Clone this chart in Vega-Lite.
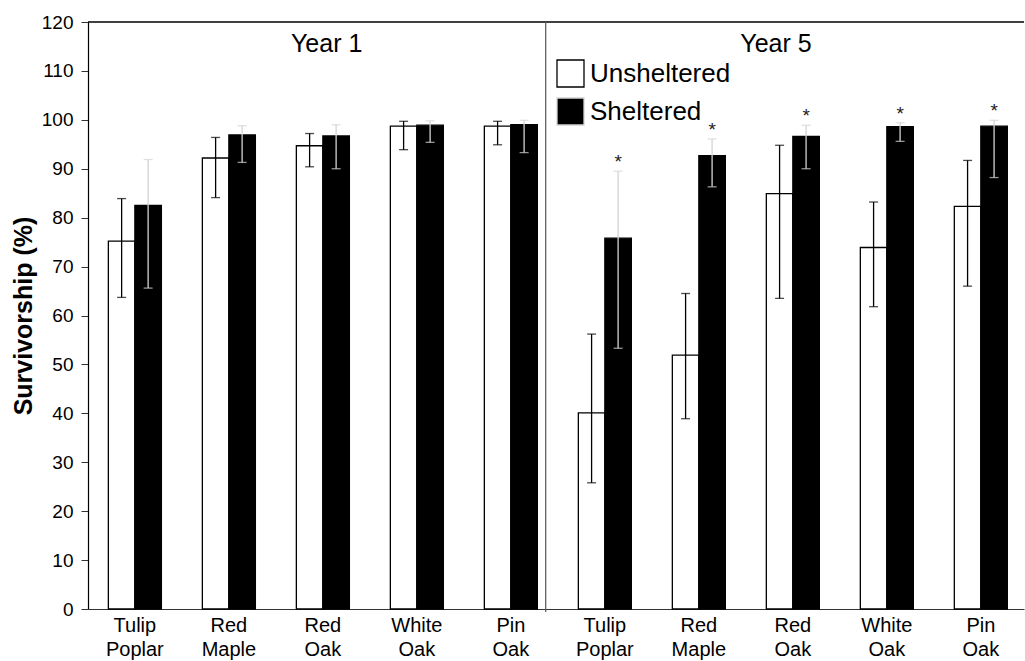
{
  "$schema": "https://vega.github.io/schema/vega-lite/v6.json",
  "width": 936,
  "height": 587,
  "autosize": "none",
  "padding": {"left": 88, "top": 22, "right": 1, "bottom": 52},
  "background": "white",
  "config": {
    "view": {"stroke": null},
    "font": "Liberation Sans",
    "text": {"font": "Liberation Sans"}
  },
  "datasets": {
    "bars": [
      {"cat": "Y1|Tulip|Poplar", "treatment": "Unsheltered", "mean": 75.2, "lo": 63.7, "hi": 83.9, "sig": false},
      {"cat": "Y1|Tulip|Poplar", "treatment": "Sheltered", "mean": 82.5, "lo": 65.6, "hi": 91.9, "sig": false},
      {"cat": "Y1|Red|Maple", "treatment": "Unsheltered", "mean": 92.2, "lo": 84.1, "hi": 96.4, "sig": false},
      {"cat": "Y1|Red|Maple", "treatment": "Sheltered", "mean": 96.9, "lo": 91.3, "hi": 98.8, "sig": false},
      {"cat": "Y1|Red|Oak", "treatment": "Unsheltered", "mean": 94.7, "lo": 90.4, "hi": 97.2, "sig": false},
      {"cat": "Y1|Red|Oak", "treatment": "Sheltered", "mean": 96.7, "lo": 90.0, "hi": 99.0, "sig": false},
      {"cat": "Y1|White|Oak", "treatment": "Unsheltered", "mean": 98.7, "lo": 93.9, "hi": 99.7, "sig": false},
      {"cat": "Y1|White|Oak", "treatment": "Sheltered", "mean": 98.9, "lo": 95.4, "hi": 99.8, "sig": false},
      {"cat": "Y1|Pin|Oak", "treatment": "Unsheltered", "mean": 98.7, "lo": 94.9, "hi": 99.7, "sig": false},
      {"cat": "Y1|Pin|Oak", "treatment": "Sheltered", "mean": 99.0, "lo": 93.3, "hi": 99.9, "sig": false},
      {"cat": "Y5|Tulip|Poplar", "treatment": "Unsheltered", "mean": 40.1, "lo": 25.8, "hi": 56.2, "sig": false},
      {"cat": "Y5|Tulip|Poplar", "treatment": "Sheltered", "mean": 75.8, "lo": 53.3, "hi": 89.5, "sig": true},
      {"cat": "Y5|Red|Maple", "treatment": "Unsheltered", "mean": 51.9, "lo": 38.9, "hi": 64.5, "sig": false},
      {"cat": "Y5|Red|Maple", "treatment": "Sheltered", "mean": 92.7, "lo": 86.3, "hi": 96.1, "sig": true},
      {"cat": "Y5|Red|Oak", "treatment": "Unsheltered", "mean": 84.9, "lo": 63.5, "hi": 94.8, "sig": false},
      {"cat": "Y5|Red|Oak", "treatment": "Sheltered", "mean": 96.6, "lo": 90.0, "hi": 98.9, "sig": true},
      {"cat": "Y5|White|Oak", "treatment": "Unsheltered", "mean": 73.9, "lo": 61.8, "hi": 83.2, "sig": false},
      {"cat": "Y5|White|Oak", "treatment": "Sheltered", "mean": 98.6, "lo": 95.6, "hi": 99.4, "sig": true},
      {"cat": "Y5|Pin|Oak", "treatment": "Unsheltered", "mean": 82.3, "lo": 66.0, "hi": 91.7, "sig": false},
      {"cat": "Y5|Pin|Oak", "treatment": "Sheltered", "mean": 98.7, "lo": 88.2, "hi": 99.9, "sig": true}
    ]
  },
  "layer": [
    {
      "data": {"name": "bars"},
      "encoding": {
        "x": {
          "field": "cat",
          "type": "nominal",
          "sort": null,
          "scale": {"paddingInner": 0.436, "paddingOuter": 0.197, "align": 0.55},
          "axis": {
            "title": null,
            "ticks": false,
            "labelExpr": "slice(split(datum.value, '|'), 1)",
            "labelFont": "Liberation Sans",
            "labelFontSize": 20,
            "labelLineHeight": 24,
            "labelPadding": 6,
            "labelAngle": 0,
            "labelBaseline": "top",
            "labelColor": "black",
            "domainColor": "#333333",
            "domainWidth": 1.2
          }
        },
        "xOffset": {
          "field": "treatment",
          "type": "nominal",
          "scale": {"domain": ["Unsheltered", "Sheltered"], "paddingInner": 0, "paddingOuter": 0}
        }
      },
      "layer": [
        {
          "mark": {"type": "bar", "stroke": "black", "strokeWidth": 1.3},
          "encoding": {
            "y": {
              "field": "mean",
              "type": "quantitative",
              "scale": {"domain": [0, 120], "nice": false},
              "axis": {
                "title": "Survivorship (%)",
                "titleFont": "Liberation Sans",
                "titleFontSize": 25,
                "titleFontWeight": "bold",
                "titleColor": "black",
                "titleX": -65,
                "titleBaseline": "middle",
                "values": [0, 5, 10, 15, 20, 25, 30, 35, 40, 45, 50, 55, 60, 65, 70, 75, 80, 85, 90, 95, 100, 105, 110, 115, 120],
                "labelExpr": "datum.value % 10 === 0 ? datum.label : ''",
                "labelFont": "Liberation Sans",
                "labelFontSize": 19,
                "labelColor": "black",
                "labelPadding": 8,
                "tickSize": {"condition": {"test": "datum.value % 10 === 0", "value": 7}, "value": 4},
                "tickColor": "#333333",
                "domainColor": "black",
                "domainWidth": 1.2,
                "grid": false
              }
            },
            "fill": {
              "field": "treatment",
              "type": "nominal",
              "scale": {"domain": ["Unsheltered", "Sheltered"], "range": ["white", "black"]},
              "legend": {
                "orient": "none",
                "legendX": 468,
                "legendY": 37,
                "title": null,
                "symbolType": "square",
                "symbolSize": 729,
                "symbolStrokeColor": "black",
                "symbolStrokeWidth": 1.3,
                "labelFont": "Liberation Sans",
                "labelFontSize": 26,
                "labelColor": "black",
                "labelOffset": 5,
                "rowPadding": 5,
                "padding": 0
              }
            }
          }
        },
        {
          "mark": {"type": "rule", "strokeWidth": 1.3},
          "encoding": {
            "y": {"field": "lo", "type": "quantitative"},
            "y2": {"field": "hi"},
            "color": {
              "field": "treatment",
              "type": "nominal",
              "scale": {"domain": ["Unsheltered", "Sheltered"], "range": ["black", "#d4d4d4"]},
              "legend": null
            }
          }
        },
        {
          "mark": {"type": "tick", "thickness": 1.3, "size": 9},
          "encoding": {
            "y": {"field": "lo", "type": "quantitative"},
            "color": {"field": "treatment", "type": "nominal", "legend": null}
          }
        },
        {
          "mark": {"type": "tick", "thickness": 1.3, "size": 9},
          "encoding": {
            "y": {"field": "hi", "type": "quantitative"},
            "color": {"field": "treatment", "type": "nominal", "legend": null}
          }
        },
        {
          "transform": [{"filter": "datum.sig"}],
          "mark": {"type": "text", "text": "*", "fontSize": 19, "baseline": "alphabetic", "dy": -3, "color": "#222222"},
          "encoding": {
            "y": {"field": "hi", "type": "quantitative"}
          }
        }
      ]
    },
    {
      "data": {"values": [{}]},
      "encoding": {
        "x": {"datum": 0, "type": "quantitative", "scale": {"domain": [0, 10], "nice": false, "zero": false}, "axis": null}
      },
      "layer": [
        {
          "mark": {"type": "rule", "color": "black", "strokeWidth": 1.3},
          "encoding": {
            "x": {"datum": 0, "type": "quantitative", "axis": null},
            "x2": {"datum": 10},
            "y": {"datum": 120, "type": "quantitative"}
          }
        },
        {
          "mark": {"type": "rule", "color": "#555555", "strokeWidth": 1.2},
          "encoding": {
            "x": {"datum": 4.89, "type": "quantitative", "axis": null},
            "y": {"datum": 120, "type": "quantitative"},
            "y2": {"datum": -0.6}
          }
        },
        {
          "mark": {"type": "text", "text": "Year 1", "fontSize": 25, "baseline": "middle", "align": "center", "color": "black"},
          "encoding": {
            "x": {"datum": 2.55, "type": "quantitative", "axis": null},
            "y": {"datum": 115.6, "type": "quantitative"}
          }
        },
        {
          "mark": {"type": "text", "text": "Year 5", "fontSize": 25, "baseline": "middle", "align": "center", "color": "black"},
          "encoding": {
            "x": {"datum": 7.35, "type": "quantitative", "axis": null},
            "y": {"datum": 115.6, "type": "quantitative"}
          }
        }
      ]
    }
  ],
  "resolve": {"scale": {"x": "independent"}}
}
